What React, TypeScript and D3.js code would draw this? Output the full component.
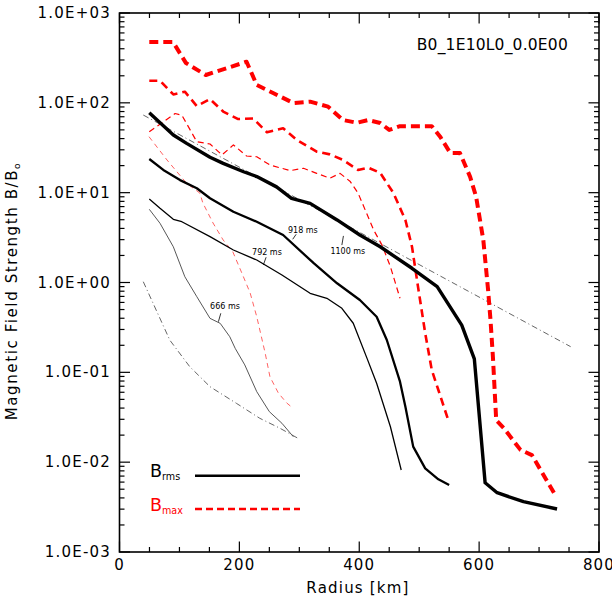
import React from "react";
import * as d3 from "d3";

// ---------- data (radius km, B/B0) ----------
const xTicksMajor = [0, 200, 400, 600, 800];
const yDecades = [1e-3, 1e-2, 1e-1, 1e0, 1e1, 1e2, 1e3];
const yTickLabels = ["1.0E-03", "1.0E-02", "1.0E-01", "1.0E+00", "1.0E+01", "1.0E+02", "1.0E+03"];

// Brms curves
const brms666: [number, number][] = [
  [49.7, 6.53], [67.6, 4.56], [89.8, 2.5], [109, 1.16], [129, 0.695], [151, 0.399], [168, 0.351],
  [184, 0.249], [193, 0.185], [209, 0.121], [229, 0.0609], [250, 0.0365], [271, 0.0271], [290, 0.0192],
];
const brms792: [number, number][] = [
  [49.7, 8.5], [67.6, 6.69], [89.8, 5.05], [104, 4.75], [151, 3.24], [190, 2.3], [229, 1.78],
  [271, 1.21], [318, 0.758], [346, 0.667], [371, 0.516], [390, 0.352], [413, 0.143], [429, 0.0755],
  [452, 0.0248], [470, 0.00818],
];
const brms918: [number, number][] = [
  [49.7, 23.7], [73.1, 17.9], [101, 13.8], [129, 11.2], [151, 8.66], [190, 6.14], [229, 4.75],
  [273, 3.38], [324, 1.64], [363, 0.98], [401, 0.638], [429, 0.416], [446, 0.229], [468, 0.0787],
  [477, 0.0414], [490, 0.0149], [510, 0.00854], [532, 0.00644], [550, 0.00557],
];
const brms1100: [number, number][] = [
  [49.7, 77.6], [89.8, 43.9], [112, 35.4], [151, 24.8], [173, 21.2], [207, 17.1], [229, 15.1],
  [262, 11.6], [287, 8.65], [318, 7.6], [363, 4.97], [401, 3.38], [435, 2.5], [488, 1.44],
  [530, 0.898], [571, 0.336], [592, 0.141], [610, 0.0059], [630, 0.00457], [674, 0.00363], [730, 0.00301],
];

// Bmax curves
const bmax666: [number, number][] = [
  [49.2, 42], [79.3, 23.1], [112, 12.7], [134, 9.9], [139, 7.7], [156, 4.6], [173, 2.97], [189, 2.2],
  [204, 1.28], [218, 0.764], [229, 0.416], [243, 0.164], [251, 0.0893], [265, 0.0589], [279, 0.0456],
  [289, 0.0401],
];
const bmax792: [number, number][] = [
  [49.7, 47.7], [92.7, 76], [104, 73], [129, 36.9], [151, 34.8], [171, 26.3], [190, 34], [212, 25.6],
  [229, 25.1], [251, 20.3], [285, 17.6], [307, 18.7], [329, 16.4], [351, 14.5], [368, 16.4], [385, 13.3],
  [398, 9.9], [410, 6.4], [424, 3.84], [438, 2.61], [452, 1.5], [468, 0.667],
];
const bmax918: [number, number][] = [
  [49.7, 176], [67.6, 176], [89.8, 124], [109, 133], [129, 92], [151, 110], [173, 80], [198, 66],
  [223, 67], [246, 47], [273, 52], [296, 38.6], [329, 28.6], [351, 26.7], [373, 23.1], [398, 17.9],
  [415, 19], [435, 16.6], [457, 9.9], [477, 4.96], [488, 2.5], [498, 0.9], [510, 0.274], [521, 0.106],
  [532, 0.0636], [543, 0.038], [550, 0.0275],
];
const bmax1100: [number, number][] = [
  [49.7, 475], [89.3, 475], [111, 277], [144, 204], [212, 287], [229, 158], [257, 128], [290, 99.5],
  [318, 103], [348, 90.6], [373, 64.4], [396, 60], [415, 64.4], [435, 59.6], [450, 49.9], [468, 55],
  [521, 55], [535, 42], [552, 27.6], [568, 27.6], [585, 15], [595, 9], [607, 2.97], [615, 0.82],
  [619, 0.38], [623, 0.149], [628.5, 0.0294], [641, 0.024], [669, 0.0137], [688, 0.012], [725, 0.00454],
];

// reference fits (dash-dot)
const fitSteep: [number, number][] = [
  [39.7, 1.02], [84, 0.228], [117, 0.116], [151, 0.0692], [195, 0.0452], [234, 0.0308], [268, 0.0238],
  [298, 0.0184],
];
const fitShallow: [number, number][] = [
  [39.7, 73.1], [752.7, 0.193],
];

// time labels
const timeLabels = ["666 ms", "792 ms", "918 ms", "1100 ms"];
const labelRadius = [176, 246, 306, 381];
const labelValue = [0.538, 2.15, 3.77, 2.2];
const leaderFrom: [number, number][] = [[169, 0.454], [244.6, 1.91], [294.7, 3.44], [373.6, 3.3]];
const leaderTo: [number, number][] = [[165, 0.366], [240, 1.57], [289, 3.03], [371, 2.61]];

const W = 612;
const H = 612;
const x = d3.scaleLinear().domain([0, 800]).range([119.5, 599]);
const y = d3.scaleLog().domain([1e-3, 1e3]).range([552, 13]);

const line = d3
  .line<[number, number]>()
  .x((d) => x(d[0]))
  .y((d) => y(d[1]));

const FONT = "'DejaVu Sans', sans-serif";

export default function App() {
  const left = x(0);
  const right = x(800);
  const top = y(1e3);
  const bottom = y(1e-3);

  const xMinor = d3.range(0, 801, 50);
  const yMinor: number[] = [];
  for (let e = -3; e < 3; e++) {
    for (let m = 2; m <= 9; m++) yMinor.push(m * Math.pow(10, e));
  }

  const series = [
    { d: fitSteep, stroke: "#555", w: 0.9, dash: "6,3,1,3" },
    { d: fitShallow, stroke: "#555", w: 0.9, dash: "6,3,1,3" },
    { d: bmax666, stroke: "#ff5050", w: 0.9, dash: "5,4" },
    { d: bmax792, stroke: "#ff0000", w: 1.2, dash: "6,4" },
    { d: bmax918, stroke: "#ff0000", w: 2.6, dash: "8,5" },
    { d: bmax1100, stroke: "#ff0000", w: 4, dash: "9,5" },
    { d: brms666, stroke: "#444", w: 0.9, dash: null },
    { d: brms792, stroke: "#000", w: 1.3, dash: null },
    { d: brms918, stroke: "#000", w: 2.3, dash: null },
    { d: brms1100, stroke: "#000", w: 3.4, dash: null },
  ];

  return (
    <svg
      width={W}
      height={H}
      viewBox={`0 0 ${W} ${H}`}
      style={{ position: "absolute", left: 0, top: 0, background: "#fff" }}
      fontFamily={FONT}
    >
      <rect x={0} y={0} width={W} height={H} fill="#fff" />
      {/* data lines */}
      <g fill="none" strokeLinejoin="round">
        {series.map((s, i) => (
          <path
            key={i}
            d={line(s.d) || ""}
            stroke={s.stroke}
            strokeWidth={s.w}
            strokeDasharray={s.dash || undefined}
          />
        ))}
      </g>

      {/* time labels */}
      <g fontSize={8} fill="#000">
        {timeLabels.map((t, i) => (
          <g key={t}>
            <text x={x(labelRadius[i])} y={y(labelValue[i])} textAnchor="middle" dominantBaseline="central">
              {t}
            </text>
            <path d={line([leaderFrom[i], leaderTo[i]]) || ""} stroke="#000" strokeWidth={0.8} fill="none" />
          </g>
        ))}
      </g>

      {/* frame */}
      <rect x={left} y={top} width={right - left} height={bottom - top} fill="none" stroke="#000" strokeWidth={1.6} />

      {/* ticks */}
      <g stroke="#000" strokeWidth={1.2}>
        {xMinor.map((v) => {
          const major = v % 200 === 0;
          const len = major ? 10.5 : 5;
          return (
            <g key={v}>
              <line x1={x(v)} x2={x(v)} y1={bottom} y2={bottom - len} />
              <line x1={x(v)} x2={x(v)} y1={top} y2={top + len} />
            </g>
          );
        })}
        {yDecades.map((v) => (
          <g key={v}>
            <line x1={left} x2={left + 10.5} y1={y(v)} y2={y(v)} />
            <line x1={right} x2={right - 10.5} y1={y(v)} y2={y(v)} />
          </g>
        ))}
        {yMinor.map((v) => (
          <g key={v}>
            <line x1={left} x2={left + 5} y1={y(v)} y2={y(v)} />
            <line x1={right} x2={right - 5} y1={y(v)} y2={y(v)} />
          </g>
        ))}
      </g>

      {/* tick labels */}
      <g fontSize={15} fill="#000" letterSpacing={1.2}>
        {xTicksMajor.map((v) => (
          <text key={v} x={x(v)} y={570} textAnchor="middle">
            {String(v)}
          </text>
        ))}
        {yDecades.map((v, i) => (
          <text key={v} x={111} y={y(v)} textAnchor="end" dominantBaseline="central">
            {yTickLabels[i]}
          </text>
        ))}
      </g>

      {/* axis titles */}
      <text x={358} y={593} textAnchor="middle" fontSize={15} letterSpacing={1.2}>
        Radius [km]
      </text>
      <text
        transform={`translate(17, 291) rotate(-90)`}
        textAnchor="middle"
        fontSize={15}
        letterSpacing={1.6}
      >
        Magnetic Field Strength B/B
        <tspan fontSize={9} dy={3}>o</tspan>
      </text>

      {/* run title */}
      <text x={568} y={49.5} textAnchor="end" fontSize={15.5} letterSpacing={0.2}>
        B0_1E10L0_0.0E00
      </text>

      {/* legend */}
      <g>
        <text x={150} y={476.5} fontSize={17.5} fill="#000">
          B<tspan fontSize={9.6} dy={3.5}>rms</tspan>
        </text>
        <line x1={195} x2={300} y1={475.7} y2={475.7} stroke="#000" strokeWidth={2.6} />
        <text x={150} y={510.5} fontSize={17.5} fill="#ff0000">
          B<tspan fontSize={9.6} dy={3.5}>max</tspan>
        </text>
        <line x1={195} x2={300} y1={509} y2={509} stroke="#ff0000" strokeWidth={2.4} strokeDasharray="7,4" />
      </g>
    </svg>
  );
}
